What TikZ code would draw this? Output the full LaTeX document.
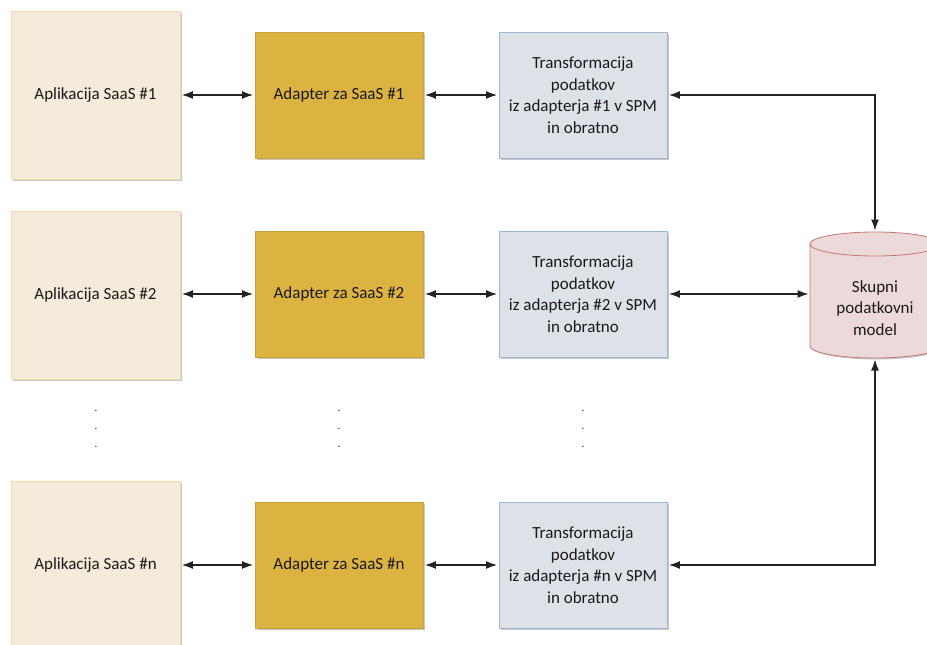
\documentclass[tikz,border=0pt]{standalone}
\usepackage{fontspec}
\setmainfont{Carlito}
\usetikzlibrary{arrows.meta,shadows}
\definecolor{appfill}{HTML}{F5EBDA}
\definecolor{appdraw}{HTML}{F0DCA8}
\definecolor{adfill}{HTML}{DCB241}
\definecolor{addraw}{HTML}{C9A13A}
\definecolor{trfill}{HTML}{DDE1E8}
\definecolor{trdraw}{HTML}{9FB6D2}
\definecolor{dbfill}{HTML}{ECDADA}
\definecolor{dbdraw}{HTML}{C77676}
\definecolor{txt}{HTML}{1A1A1A}
\definecolor{linec}{HTML}{222222}
\begin{document}
\begin{tikzpicture}[x=1pt,y=-1pt,
 lbl/.style={align=center, inner sep=0pt, font=\fontsize{17}{21.5}\selectfont, text=txt},
 box/.style={lbl, draw, line width=0.9pt, drop shadow={shadow xshift=1.5pt,shadow yshift=-1.5pt,opacity=0.22,fill=black}},
 appbox/.style={box, fill=appfill, draw=appdraw, minimum width=169pt, minimum height=168pt},
 adbox/.style={box, fill=adfill, draw=addraw, minimum width=168pt, minimum height=126pt},
 trbox/.style={box, fill=trfill, draw=trdraw, minimum width=168pt, minimum height=126pt},
 link/.style={draw=linec, line width=1.15pt, {Latex[length=11pt,width=8pt]}-{Latex[length=11pt,width=8pt]}, shorten <=1.5pt, shorten >=1.5pt},
 dotnode/.style={font=\fontsize{11}{11}\selectfont, inner sep=0pt, text=txt}]
\useasboundingbox (0,0) rectangle (927,645);
\fill[white] (0,0) rectangle (927,645);
% row 1
\node[appbox] (app1) at (95.5,95) {Aplikacija SaaS \#1};
\node[adbox] (ad1) at (339,95) {Adapter za SaaS \#1};
\node[trbox] (tr1) at (583,95) {Transformacija\\podatkov\\iz adapterja \#1 v SPM\\in obratno};
% row 2
\node[appbox] (app2) at (95.5,295) {Aplikacija SaaS \#2};
\node[adbox] (ad2) at (339,294) {Adapter za SaaS \#2};
\node[trbox] (tr2) at (583,294) {Transformacija\\podatkov\\iz adapterja \#2 v SPM\\in obratno};
% row n
\node[appbox] (appn) at (95.5,565) {Aplikacija SaaS \#n};
\node[adbox] (adn) at (339,565) {Adapter za SaaS \#n};
\node[trbox] (trn) at (583,565) {Transformacija\\podatkov\\iz adapterja \#n v SPM\\in obratno};
% dots
\foreach \x/\c in {96/a,339/b,583/c}{
  \node[dotnode] (dot\c1) at (\x,411) {.};
  \node[dotnode] (dot\c2) at (\x,429) {.};
  \node[dotnode] (dot\c3) at (\x,447) {.};
}
% cylinder
\filldraw[fill=dbfill, draw=dbdraw, line width=0.8pt, drop shadow={shadow xshift=1.5pt,shadow yshift=-1.5pt,opacity=0.22,fill=black}]
  (810,244) -- (810,346) arc[start angle=180,end angle=360,x radius=65pt,y radius=12pt] -- (940,244)
  arc[start angle=0,end angle=180,x radius=65pt,y radius=12pt] -- cycle;
\draw[draw=dbdraw, line width=0.8pt] (810,244) arc[start angle=180,end angle=360,x radius=65pt,y radius=12pt];
\node[lbl] (db) at (875,308) {Skupni\\podatkovni\\model};
\coordinate (dbtop) at (875,232);
\coordinate (dbleft) at (810,294);
\coordinate (dbbot) at (875,358);
% connectors
\draw[link] (app1.east) -- (ad1.west);
\draw[link] (ad1.east) -- (tr1.west);
\draw[link] (tr1.east) -| (dbtop);
\draw[link] (app2.east |- ad2.west) -- (ad2.west);
\draw[link] (ad2.east) -- (tr2.west);
\draw[link] (tr2.east) -- (dbleft);
\draw[link] (appn.east) -- (adn.west);
\draw[link] (adn.east) -- (trn.west);
\draw[link] (trn.east) -| (dbbot);
\end{tikzpicture}
\end{document}
